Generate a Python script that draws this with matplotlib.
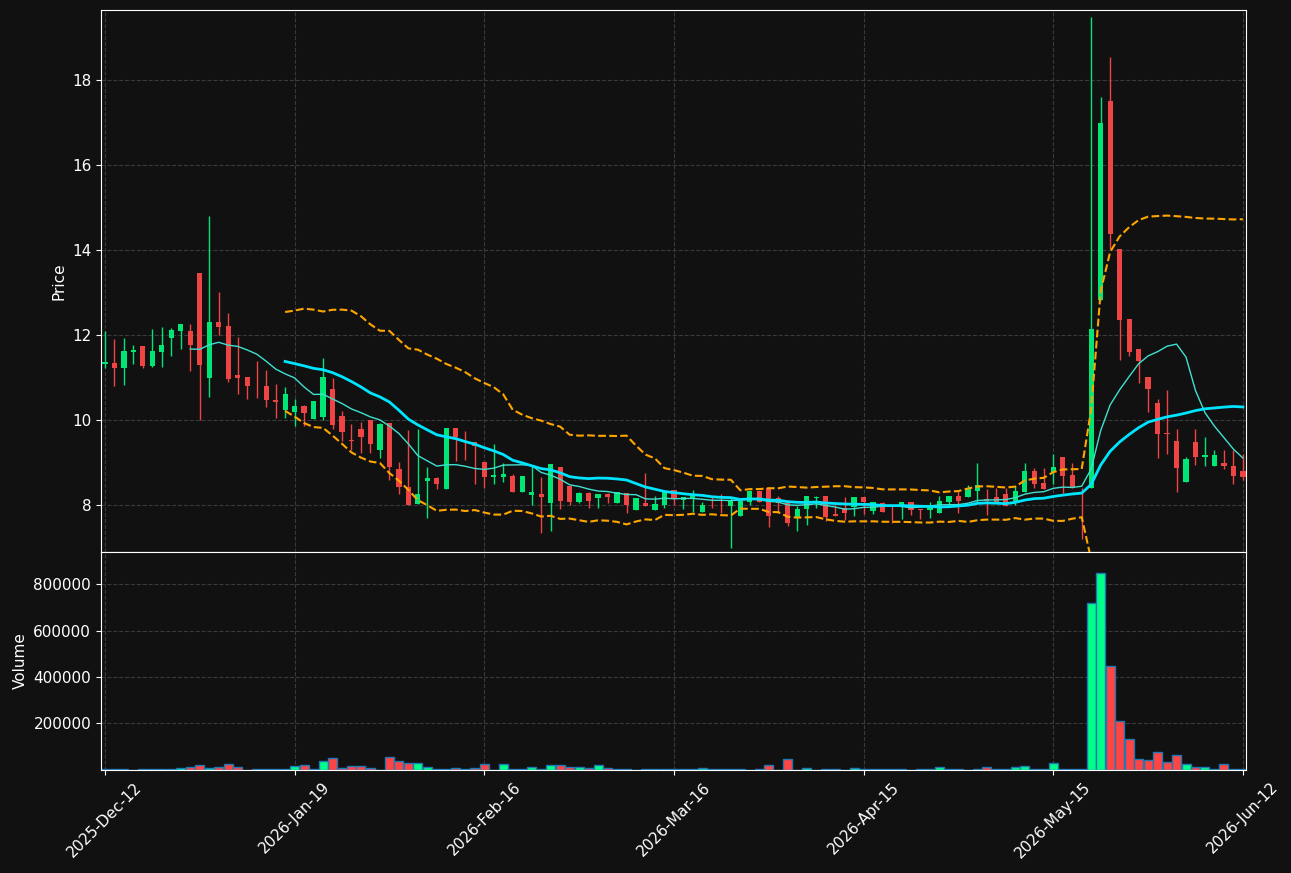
import matplotlib
matplotlib.use("Agg")
import matplotlib.pyplot as plt
from matplotlib.ticker import FixedLocator, FuncFormatter
import numpy as np
import pandas as pd

# daily OHLCV, one entry per trading day
opens = [11.31, 11.35, 11.22, 11.61, 11.73, 11.28, 11.61, 11.94, 12.10, 12.10,
         13.47, 11.00, 12.31, 12.22, 11.07, 11.02, 10.81, 10.81, 10.48, 10.23,
         10.20, 10.34, 10.02, 10.08, 10.74, 10.10, 9.54, 9.80, 10.01, 9.29,
         9.93, 8.85, 8.43, 8.02, 8.56, 8.64, 8.38, 9.82, 9.07, 9.48,
         9.02, 8.67, 8.67, 8.68, 8.31, 8.24, 8.26, 8.05, 8.89, 8.45,
         8.08, 8.28, 8.16, 8.26, 8.05, 8.28, 7.89, 8.05, 7.89, 8.00,
         8.35, 8.12, 8.17, 7.84, 8.08, 8.00, 7.98, 7.75, 8.07, 8.33,
         8.39, 8.16, 8.04, 7.71, 7.90, 8.17, 8.21, 7.79, 7.94, 7.96,
         8.19, 7.87, 8.05, 7.98, 7.96, 8.06, 7.91, 7.88, 7.80, 8.08,
         8.21, 8.19, 8.34, 8.13, 8.20, 8.25, 8.09, 8.31, 8.80, 8.52,
         8.77, 9.14, 8.71, 8.40, 8.39, 12.82, 17.50, 14.03, 12.37, 11.68,
         11.01, 10.41, 9.70, 9.51, 8.54, 9.48, 9.12, 8.92, 9.00, 8.92,
         8.81]
highs = [12.09, 11.91, 11.93, 11.77, 11.73, 12.14, 12.20, 12.17, 12.27, 12.26,
         13.47, 14.80, 13.01, 12.52, 11.96, 11.02, 11.39, 11.18, 10.85, 10.78,
         10.49, 10.36, 10.45, 11.46, 10.99, 10.21, 9.91, 9.95, 10.01, 9.93,
         9.93, 9.01, 9.77, 9.80, 8.90, 8.67, 9.82, 9.82, 9.74, 9.48,
         9.02, 9.44, 9.00, 8.72, 8.68, 8.91, 8.67, 8.96, 8.89, 8.45,
         8.31, 8.31, 8.26, 8.29, 8.30, 8.28, 8.16, 8.75, 8.22, 8.32,
         8.35, 8.19, 8.35, 8.06, 8.20, 8.27, 8.17, 8.09, 8.35, 8.33,
         8.39, 8.21, 8.04, 7.98, 8.21, 8.21, 8.21, 7.99, 8.19, 8.18,
         8.19, 8.06, 8.06, 7.98, 8.07, 8.06, 7.91, 8.06, 8.21, 8.21,
         8.35, 8.48, 8.98, 8.37, 8.39, 8.39, 8.45, 9.00, 8.88, 8.88,
         9.19, 9.14, 9.00, 8.40, 19.48, 17.61, 18.54, 14.03, 12.37, 11.68,
         11.01, 10.49, 10.71, 9.80, 9.13, 9.80, 9.60, 9.29, 9.29, 9.29,
         9.21]
lows = [11.22, 10.79, 10.82, 11.32, 11.22, 11.24, 11.24, 11.50, 11.66, 11.15,
        10.00, 10.54, 11.99, 10.89, 10.61, 10.49, 10.51, 10.31, 10.04, 10.04,
        9.85, 9.85, 10.02, 10.00, 9.80, 9.51, 9.30, 9.22, 9.22, 9.10,
        8.59, 8.26, 8.01, 8.02, 7.69, 8.37, 8.38, 9.03, 9.05, 8.49,
        8.40, 8.49, 8.53, 8.31, 8.31, 8.01, 7.35, 7.38, 7.90, 7.99,
        8.05, 7.94, 7.92, 8.04, 8.05, 7.80, 7.89, 7.98, 7.89, 7.93,
        8.00, 7.90, 7.84, 7.84, 7.92, 7.80, 6.98, 7.75, 7.99, 8.08,
        7.49, 7.80, 7.51, 7.38, 7.52, 7.92, 7.62, 7.73, 7.65, 7.74,
        7.78, 7.78, 7.84, 7.58, 7.67, 7.77, 7.66, 7.69, 7.80, 7.95,
        7.80, 8.19, 8.08, 7.77, 8.08, 7.98, 7.99, 8.31, 8.39, 8.38,
        8.50, 8.28, 8.39, 7.21, 8.39, 12.82, 14.03, 11.42, 11.50, 10.88,
        10.20, 9.10, 9.21, 8.30, 8.54, 8.94, 8.91, 8.91, 8.84, 8.49,
        8.59]
closes = [11.37, 11.22, 11.63, 11.65, 11.28, 11.63, 11.77, 12.13, 12.27, 11.76,
          11.29, 12.31, 12.20, 10.97, 11.00, 10.79, 10.79, 10.46, 10.43, 10.62,
          10.34, 10.17, 10.45, 11.02, 9.89, 9.71, 9.51, 9.59, 9.43, 9.91,
          8.89, 8.42, 8.01, 8.27, 8.64, 8.49, 9.82, 9.61, 9.05, 9.40,
          8.67, 8.71, 8.73, 8.31, 8.68, 8.31, 8.20, 8.96, 8.10, 8.08,
          8.28, 8.10, 8.26, 8.20, 8.30, 7.99, 8.16, 7.98, 8.02, 8.32,
          8.13, 8.19, 8.26, 8.00, 8.06, 7.99, 8.10, 8.09, 8.33, 8.08,
          7.75, 8.04, 7.58, 7.90, 8.21, 8.20, 7.71, 7.73, 7.82, 8.18,
          8.08, 8.06, 7.84, 7.96, 8.07, 7.89, 7.89, 7.98, 8.09, 8.21,
          8.10, 8.39, 8.47, 8.10, 8.08, 7.98, 8.33, 8.80, 8.50, 8.38,
          8.89, 8.68, 8.39, 8.39, 12.14, 17.00, 14.38, 12.36, 11.61, 11.39,
          10.74, 9.68, 9.68, 8.88, 9.09, 9.12, 9.18, 9.18, 8.91, 8.69,
          8.65]
volumes = [4300, 4300, 4300, 500, 1400, 4300, 4300, 4300, 8600, 13000,
           21600, 7200, 13000, 25900, 13000, 700, 4300, 4300, 4300, 1400,
           17300, 21600, 4300, 38900, 51800, 8600, 17300, 17300, 8600, 700,
           56000, 36000, 30200, 30200, 13000, 1400, 1400, 5800, 1400, 8600,
           23000, 700, 23000, 4300, 4300, 13000, 1400, 18700, 18700, 13000,
           13000, 8600, 18700, 8600, 1400, 4300, 500, 1400, 1400, 1400,
           4300, 1400, 1400, 8600, 1400, 1400, 1400, 1400, 500, 4300,
           18700, 500, 47500, 500, 8600, 500, 4300, 4300, 500, 8600,
           4300, 4300, 4300, 4300, 4300, 500, 1400, 1400, 13000, 1400,
           1400, 500, 4300, 13000, 4300, 1500, 10000, 14400, 4300, 800,
           27300, 4300, 4300, 4300, 718000, 847600, 446000, 211500, 133800, 47500,
           40300, 74800, 31700, 61900, 23000, 10000, 10000, 1000, 23000, 3000,
           4300]

date_labels = ['2025-Dec-12', '2026-Jan-19', '2026-Feb-16', '2026-Mar-16',
               '2026-Apr-15', '2026-May-15', '2026-Jun-12']

bg = '#111111'
up_col = '#00e676'
down_col = '#ef4444'

df = pd.DataFrame({'open': opens, 'high': highs, 'low': lows,
                   'close': closes, 'volume': volumes})
x = np.arange(len(df))
up = df['close'] >= df['open']

# moving averages and bollinger bands from the closes
ma10 = df['close'].rolling(10).mean()
ma20 = df['close'].rolling(20).mean()
sd20 = df['close'].rolling(20).std(ddof=0)
bb_up = ma20 + 2 * sd20
bb_lo = ma20 - 2 * sd20

fig = plt.figure(figsize=(12.91, 8.73), dpi=100, facecolor=bg)
ax = fig.add_axes([0.0782, 0.3677, 0.8869, 0.6209])
axv = fig.add_axes([0.0782, 0.118, 0.8869, 0.2497], sharex=ax)

for a in (ax, axv):
    a.set_facecolor(bg)
    for s in a.spines.values():
        s.set_color('white')
    a.tick_params(colors='white', labelsize=11)
    a.grid(True, color='#3a3a3a', linestyle='--', linewidth=0.8)
    a.set_axisbelow(True)

# candles
colors = [up_col if u else down_col for u in up]
ax.vlines(x, df['low'], df['high'], colors=colors, linewidth=1, zorder=2)
body_lo = np.minimum(df['open'], df['close'])
body_h = np.abs(df['close'] - df['open']).clip(lower=0.02)
ax.bar(x, body_h, bottom=body_lo, width=0.55, color=colors, zorder=3)

ax.plot(x, ma10, color='#40e0d0', linewidth=1, zorder=4)
ax.plot(x, ma20, color='#00e5ff', linewidth=2, zorder=4)
ax.plot(x, bb_up, color='orange', linewidth=1.5, linestyle='--', zorder=4)
ax.plot(x, bb_lo, color='orange', linewidth=1.5, linestyle='--', zorder=4)

ax.set_ylim(6.894, 19.65)
ax.set_yticks([8, 10, 12, 14, 16, 18])
ax.set_ylabel('Price', color='white', fontsize=11)
plt.setp(ax.get_xticklabels(), visible=False)

# volume
vcolors = ['#00ff88' if u else '#ff4444' for u in up]
axv.bar(x, df['volume'], width=0.95, color=vcolors, edgecolor='#1f77b4', linewidth=1)
axv.set_ylim(-1300, 939800)
axv.yaxis.set_major_locator(FixedLocator([200000, 400000, 600000, 800000]))
axv.yaxis.set_major_formatter(FuncFormatter(lambda v, p: '%d' % v))
axv.set_ylabel('Volume', color='white', fontsize=11)

tick_pos = np.arange(0, len(df), 20)
axv.set_xticks(tick_pos)
axv.set_xticklabels(date_labels, rotation=45)
axv.set_xlim(-0.42, 120.32)

fig.savefig('out.png', dpi=100, facecolor=bg)
